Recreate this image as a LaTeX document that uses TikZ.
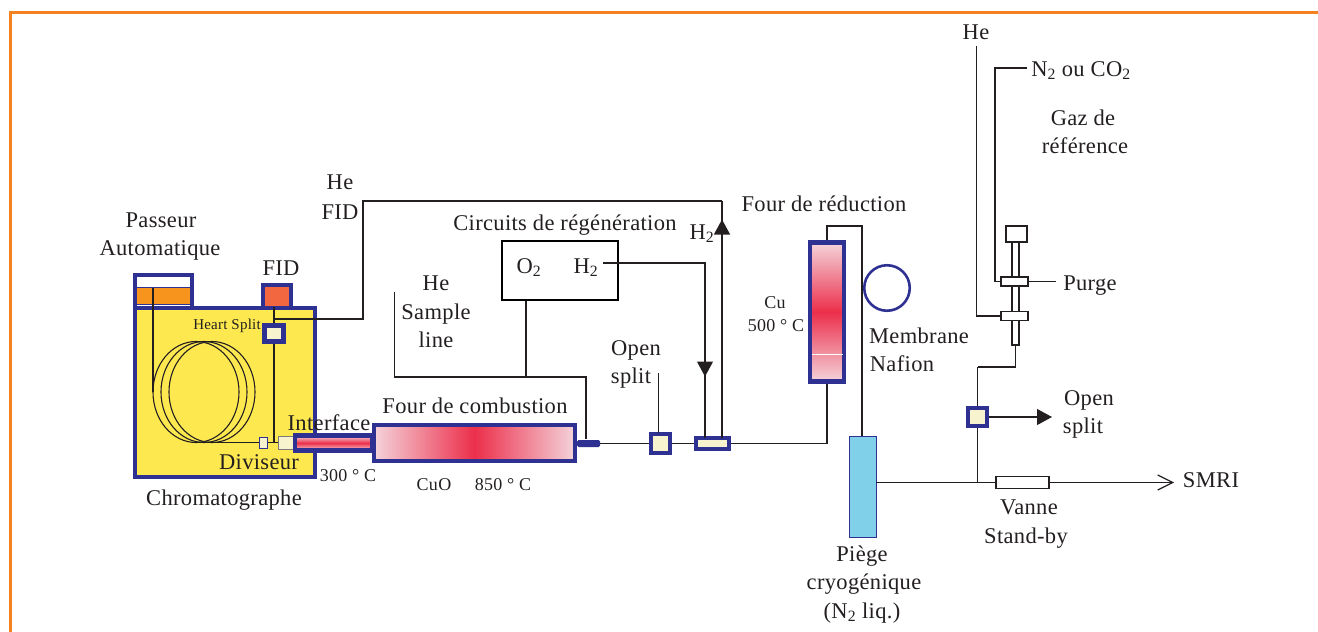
\documentclass[tikz,border=0pt]{standalone}
\usepackage{fontspec}
\setmainfont[LetterSpace=1.5]{Liberation Serif}
\usetikzlibrary{arrows.meta,shapes.geometric}
\definecolor{gcblue}{HTML}{2E3192}
\definecolor{gcyellow}{HTML}{FDE94F}
\definecolor{valvecream}{HTML}{F8F3CF}
\definecolor{ovenpink}{HTML}{F4D3DA}
\definecolor{ovenred}{HTML}{EC2F4B}
\definecolor{frameorange}{HTML}{F58220}
\definecolor{linegrey}{HTML}{231F20}
\definecolor{trayorange}{HTML}{F7941E}
\definecolor{fidred}{HTML}{F26640}
\definecolor{trapblue}{HTML}{7FD0E8}
\newcommand{\two}{\textsubscript{2}}
\tikzset{
lab/.style={inner sep=0, text=linegrey, align=center, text height=17, text depth=4, font=\fontsize{22.5}{25}\selectfont},
smalllab/.style={lab, text height=13, text depth=1, font=\fontsize{18}{20}\selectfont},
pipe/.style={line width=1.15pt, draw=linegrey},
box/.style={rectangle, draw=gcblue, line width=4.3pt, inner sep=0},
valve/.style={box, fill=valvecream},
thinbox/.style={rectangle, draw=linegrey, line width=1.1pt, fill=white, inner sep=0},
bigtip/.style={-{Triangle[length=15pt,width=16pt]}},
}
\begin{document}
\begin{tikzpicture}[x=1pt,y=-1pt]
\useasboundingbox (0,0) rectangle (1318,632);
\coordinate (frame0) at (10.5,632);
\coordinate (frame1) at (10.5,12.5);
\coordinate (frame2) at (1318,12.5);
\draw[frameorange, line width=3pt] (frame0) -- (frame1) -- (frame2);
% chromatographe
\node[box, fill=white, minimum width=57, minimum height=33] (passeur) at (163.5,291.5){};
\node[rectangle, fill=trayorange, draw=gcblue, line width=0.8pt, inner sep=0, minimum width=54, minimum height=17] (tray) at (163.5,296){};
\node[box, fill=fidred, minimum width=28, minimum height=24] (fid) at (277,297){};
\node[box, fill=gcyellow, minimum width=180, minimum height=169] (gc) at (225,392.5){};
\foreach \i/\x in {1/196,2/204,3/212}
  \node[ellipse, draw=linegrey, line width=1.1pt, inner sep=0, minimum width=86, minimum height=101] (coil\i) at (\x,392){};
\coordinate (trayin) at (153,288);
\coordinate (coilin) at (153,392);
\coordinate (coilout) at (204,442.5);
\coordinate (fidout) at (274,307);
\coordinate (split0) at (274,319);
\coordinate (split1) at (363,319);
\coordinate (split2) at (363,201);
\coordinate (split3) at (722,201);
\coordinate (joint) at (274,442.5);
\draw[pipe](trayin) -- (coilin);
\node[valve, minimum width=19, minimum height=16] (heart) at (274,333.5){};
\node[rectangle, draw=gcblue, line width=1pt, fill=valvecream, inner sep=0, minimum width=8, minimum height=11] (div) at (263,442.5){};
\node[rectangle, draw=linegrey!60, line width=1pt, fill=valvecream, inner sep=0, minimum width=15, minimum height=13] (inlet) at (285.5,442.5){};
\draw[pipe](coilout) -- (div);
\draw[pipe](div) -- (inlet);
\draw[pipe](fidout) -- (heart);
\draw[pipe](heart) -- (joint);
\draw[pipe](split0) -- (split1) -- (split2) -- (split3);
% fours
\node[box, top color=ovenpink, bottom color=ovenpink, middle color=ovenred, minimum width=77, minimum height=15] (tube) at (333.5,443){};
\node[box, left color=ovenpink, right color=ovenpink, middle color=ovenred, minimum width=201, minimum height=36] (four) at (474.5,443){};
\node[rectangle, rounded corners=1.5pt, fill=gcblue, inner sep=0, minimum width=23, minimum height=7] (bar) at (588.5,443.5){};
\node[valve, minimum width=19, minimum height=18.5] (osplit) at (660.5,443.5){};
\node[valve, minimum width=33, minimum height=11.5] (hvalve) at (712.5,443.5){};
\node[box, top color=ovenpink, bottom color=ovenpink, middle color=ovenred, minimum width=34.5, minimum height=139] (redu) at (827,312){};
\node[circle, draw=gcblue, line width=2.6pt, inner sep=0, minimum size=45.5] (nafion) at (887,288){};
\node[rectangle, draw=gcblue, line width=1pt, fill=trapblue, inner sep=0, minimum width=27, minimum height=101] (trap) at (862.5,486.5){};
\node[rectangle, draw=black, line width=2.6pt, inner sep=0, minimum width=116, minimum height=59] (regen) at (560,270.5){};
\coordinate (whitea) at (812,354);
\coordinate (whiteb) at (843,354);
\draw[white, line width=0.8pt](whitea) -- (whiteb);
% circuits
\coordinate (sample0) at (394.5,292);
\coordinate (sample1) at (394.5,377);
\coordinate (sample2) at (586,377);
\coordinate (barin) at (586,439);
\coordinate (oxout) at (526,301);
\coordinate (oxin) at (526,377);
\coordinate (hyd0) at (603,263);
\coordinate (hyd1) at (705,263);
\coordinate (hyd2) at (705,438);
\coordinate (hyda) at (705,362);
\coordinate (hydb) at (705,376.5);
\coordinate (up0) at (722,438);
\coordinate (upa) at (722,234);
\coordinate (upb) at (722,219.5);
\coordinate (osfree) at (658.5,373);
\coordinate (osv) at (658.5,433);
\coordinate (rtop0) at (827,226);
\coordinate (rtop1) at (862,226);
\coordinate (trapin) at (862,436);
\draw[pipe](sample0) -- (sample1) -- (sample2) -- (barin);
\draw[pipe](oxout) -- (oxin);
\draw[pipe](hyd0) -- (hyd1) -- (hyd2);
\draw[pipe, bigtip, fill=linegrey](hyda) -- (hydb);
\draw[pipe](up0) -- (split3);
\draw[pipe, bigtip, fill=linegrey](upa) -- (upb);
\draw[pipe](osfree) -- (osv);
\draw[pipe](bar) -- (osplit);
\draw[pipe](osplit) -- (hvalve);
\draw[pipe](hvalve.east) -| (redu.south);
\draw[pipe](redu.north) -- (rtop0) -- (rtop1) -- (trapin);
% sortie
\node[thinbox, minimum width=53, minimum height=12] (vanne) at (1022.5,482.5){};
\node[valve, minimum width=19, minimum height=18.5] (rvalve) at (977.5,417){};
\node[thinbox, minimum width=7, minimum height=103] (manifold) at (1015.5,293.5){};
\node[thinbox, minimum width=21, minimum height=16] (topbox) at (1016.5,234){};
\node[thinbox, minimum width=27, minimum height=9] (vup) at (1014.5,281.5){};
\node[thinbox, minimum width=27, minimum height=8.5] (vlow) at (1014.5,316){};
\coordinate (trapout) at (876,482.5);
\coordinate (jtop) at (977.5,367);
\coordinate (jbot) at (977.5,482.5);
\coordinate (smri) at (1174,482.5);
\coordinate (ostip) at (1052,417);
\coordinate (hetop) at (976.5,46);
\coordinate (ntop) at (1027,68);
\coordinate (nside) at (995,68);
\coordinate (purge) at (1056,281.5);
\draw[pipe](trapout) -- (vanne);
\draw[pipe, -{Straight Barb[length=15pt,width=15pt]}](vanne) -- (smri);
\draw[pipe](manifold.south) |- (jtop);
\draw[pipe](jtop) -- (rvalve);
\draw[pipe](rvalve) -- (jbot);
\draw[pipe, bigtip, fill=linegrey](rvalve) -- (ostip);
\draw[pipe](hetop) |- (vlow);
\draw[pipe](ntop) -- (nside) |- (vup);
\draw[pipe](vup) -- (purge);
% textes
\node[lab] (t0) at (161,221){Passeur};
\node[lab] (t1) at (160,249){Automatique};
\node[lab] (t2) at (281,269){FID};
\node[lab] (t3) at (340,183){He};
\node[lab] (t4) at (340,213){FID};
\node[smalllab, font=\fontsize{15}{18}\selectfont] (t5) at (227,323){Heart Split};
\node[lab] (t6) at (329,424){Interface};
\node[lab] (t7) at (259,463){Diviseur};
\node[smalllab] (t8) at (348,475){300 ° C};
\node[lab] (t9) at (475,407){Four de combustion};
\node[smalllab] (t10) at (434,484){CuO};
\node[smalllab] (t11) at (503,484){850 ° C};
\node[lab] (t12) at (224,499){Chromatographe};
\node[lab] (t13) at (565,224){Circuits de régénération};
\node[lab] (t14) at (529,267){O\two};
\node[lab] (t15) at (586,267){H\two};
\node[lab] (t16) at (436,284){He};
\node[lab] (t17) at (436,313){Sample};
\node[lab] (t18) at (436,341){line};
\node[lab] (t19) at (636,349){Open};
\node[lab] (t20) at (631,377){split};
\node[lab] (t21) at (702,233){H\two};
\node[lab] (t22) at (824,205){Four de réduction};
\node[smalllab] (t23) at (775,302){Cu};
\node[smalllab] (t24) at (776,325){500 ° C};
\node[lab] (t25) at (919,337){Membrane};
\node[lab] (t26) at (902,365){Nafion};
\node[lab] (t27) at (976,33){He};
\node[lab] (t28) at (1081,70){N\two{} ou CO\two};
\node[lab] (t29) at (1083,119){Gaz de};
\node[lab] (t30) at (1085,147){référence};
\node[lab] (t31) at (1090,284){Purge};
\node[lab] (t32) at (1089,399){Open};
\node[lab] (t33) at (1083,427){split};
\node[lab] (t34) at (1211,481){SMRI};
\node[lab] (t35) at (1029,508){Vanne};
\node[lab] (t36) at (1026,537){Stand-by};
\node[lab] (t37) at (862,555){Piège};
\node[lab] (t38) at (864,583){cryogénique};
\node[lab] (t39) at (862,612){(N\two{} liq.)};
\end{tikzpicture}
\end{document}
